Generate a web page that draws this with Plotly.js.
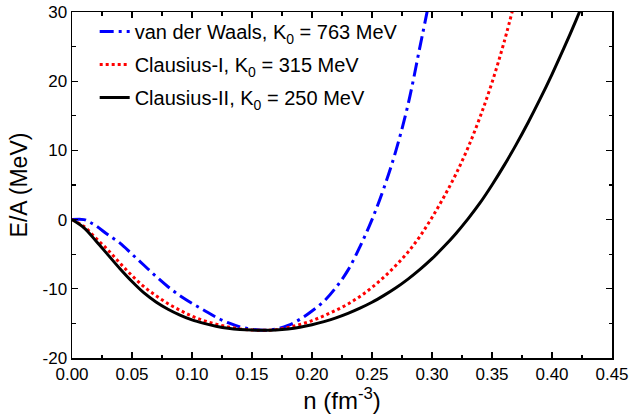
<!DOCTYPE html>
<html>
<head>
<meta charset="utf-8">
<script src="https://cdn.plot.ly/plotly-3.0.1.min.js"></script>
<style>html,body{margin:0;padding:0;background:#fff;}#chart{width:640px;height:416px;}</style>
</head>
<body>
<div id="chart"></div>
<script>
// Density n (fm^-3)
var nVdw = [0, 0.01, 0.015, 0.02, 0.03, 0.04, 0.05, 0.06, 0.07, 0.08, 0.09, 0.10, 0.11, 0.12, 0.13, 0.14, 0.15, 0.16, 0.17, 0.18, 0.19, 0.20, 0.21, 0.22, 0.23, 0.24, 0.25, 0.26, 0.27, 0.28, 0.29, 0.30];
var eVdw = [0, 0.0, -0.4, -0.9, -2.2, -3.4, -5.0, -6.6, -8.2, -9.7, -11.0, -12.1, -13.1, -14.1, -14.9, -15.5, -15.85, -16.0, -15.8, -15.3, -14.4, -13.2, -11.8, -9.8, -7.3, -3.9, 0.0, 4.6, 10.0, 16.6, 25.0, 33.5];

var nC1 = [0, 0.01, 0.02, 0.03, 0.04, 0.05, 0.06, 0.07, 0.08, 0.09, 0.10, 0.11, 0.12, 0.13, 0.14, 0.15, 0.16, 0.17, 0.18, 0.19, 0.20, 0.21, 0.22, 0.23, 0.24, 0.25, 0.26, 0.27, 0.28, 0.29, 0.30, 0.31, 0.32, 0.33, 0.34, 0.35, 0.36, 0.37];
var eC1 = [0, -1.0, -2.7, -4.4, -6.3, -8.1, -9.7, -11.0, -12.15, -13.1, -13.95, -14.6, -15.1, -15.5, -15.8, -15.95, -16.0, -15.9, -15.6, -15.15, -14.6, -13.9, -13.1, -12.2, -11.1, -9.8, -8.3, -6.6, -4.7, -2.4, 0.3, 3.3, 6.6, 10.4, 14.8, 19.8, 25.6, 32.2];

var nC2 = [0, 0.01, 0.02, 0.03, 0.04, 0.05, 0.06, 0.07, 0.08, 0.09, 0.10, 0.11, 0.12, 0.13, 0.14, 0.15, 0.16, 0.17, 0.18, 0.19, 0.20, 0.21, 0.22, 0.23, 0.24, 0.25, 0.26, 0.27, 0.28, 0.29, 0.30, 0.31, 0.32, 0.33, 0.34, 0.35, 0.36, 0.37, 0.38, 0.39, 0.40, 0.41, 0.42, 0.43];
var eC2 = [0, -1.2, -3.1, -5.1, -7.1, -8.95, -10.6, -11.9, -12.95, -13.8, -14.5, -15.0, -15.4, -15.7, -15.88, -15.97, -16.0, -15.95, -15.8, -15.55, -15.2, -14.75, -14.2, -13.55, -12.8, -11.95, -10.95, -9.85, -8.6, -7.2, -5.65, -3.9, -2.0, 0.1, 2.4, 5.0, 7.8, 10.8, 14.0, 17.4, 21.0, 24.8, 28.8, 33.0];

var seriesNames = [
  'van der Waals, K<sub>0</sub> = 763 MeV',
  'Clausius-I, K<sub>0</sub> = 315 MeV',
  'Clausius-II, K<sub>0</sub> = 250 MeV'
];

var xTickVals = [0, 0.05, 0.10, 0.15, 0.20, 0.25, 0.30, 0.35, 0.40, 0.45];
var xTickText = ['0.00', '0.05', '0.10', '0.15', '0.20', '0.25', '0.30', '0.35', '0.40', '0.45'];
var yTickVals = [-20, -10, 0, 10, 20, 30];
var yTickText = ['-20', '-10', '0', '10', '20', '30'];

var FONT = '"Liberation Sans", Arial, sans-serif';

var traces = [
  {x: nVdw, y: eVdw, name: seriesNames[0], legendgroup: 'a', mode: 'lines',
   line: {color: '#0000ff', width: 3, dash: '14px,5px,3px,5px', shape: 'spline'}},
  {x: nC1, y: eC1, name: seriesNames[1], legendgroup: 'b', mode: 'lines',
   line: {color: '#ff0000', width: 3, dash: 'dot', shape: 'spline'}},
  {x: nC2, y: eC2, name: seriesNames[2], legendgroup: 'c', mode: 'lines',
   line: {color: '#000000', width: 3, shape: 'spline'}}
];

var axisCommon = {
  showgrid: false, zeroline: false,
  showline: true, linecolor: '#000', linewidth: 1.5, mirror: 'ticks',
  ticks: 'inside', ticklen: 6, tickwidth: 1.3, tickcolor: '#000',
  tickfont: {family: FONT, size: 17, color: '#000'},
  tickmode: 'array'
};

var layout = {
  width: 640, height: 416,
  margin: {l: 72, r: 28, t: 12, b: 58},
  paper_bgcolor: '#fff', plot_bgcolor: '#fff',
  font: {family: FONT, color: '#000'},
  showlegend: true,
  legend: {x: 0.042, y: 1.0, xanchor: 'left', yanchor: 'top',
           bgcolor: 'rgba(0,0,0,0)', borderwidth: 0,
           font: {family: FONT, size: 20, color: '#000'}, tracegroupgap: 4},
  xaxis: Object.assign({}, axisCommon, {
    range: [0, 0.45], tickvals: xTickVals, ticktext: xTickText,
    minor: {ticks: 'inside', ticklen: 3.5, tickwidth: 1.3, tickcolor: '#000', dtick: 0.025, tick0: 0},
    title: {text: 'n (fm<sup>-3</sup>)', font: {family: FONT, size: 24, color: '#000'}, standoff: 6}
  }),
  yaxis: Object.assign({}, axisCommon, {
    range: [-20, 30], tickvals: yTickVals, ticktext: yTickText,
    minor: {ticks: 'inside', ticklen: 3.5, tickwidth: 1.3, tickcolor: '#000', dtick: 5, tick0: 0},
    title: {text: 'E/A (MeV)', font: {family: FONT, size: 23, color: '#000'}, standoff: 8}
  })
};

Plotly.newPlot('chart', traces, layout, {staticPlot: true, displayModeBar: false});
</script>
</body>
</html>
